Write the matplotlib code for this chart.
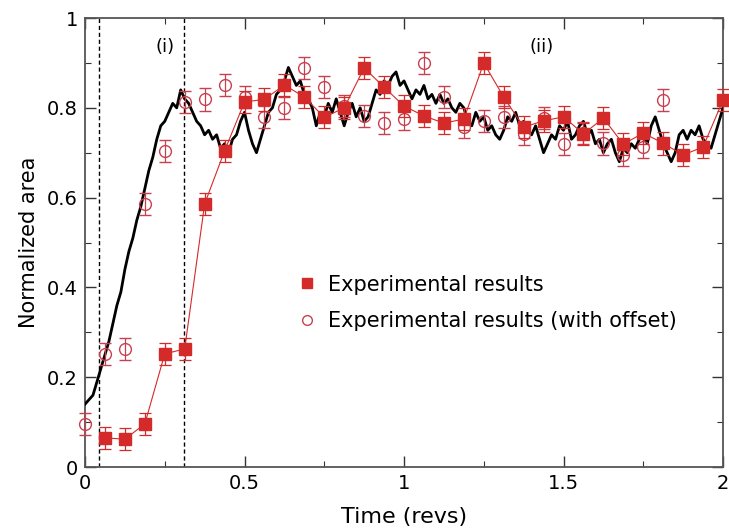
import numpy as np
import matplotlib
matplotlib.use('Agg')
import matplotlib.pyplot as plt
from matplotlib.ticker import MultipleLocator

# measured area, one sample every 1/16 rev
exp_time = [0.0625, 0.125, 0.1875, 0.25, 0.3125, 0.375, 0.4375, 0.5,
            0.5625, 0.625, 0.6875, 0.75, 0.8125, 0.875, 0.9375, 1.0,
            1.0625, 1.125, 1.1875, 1.25, 1.3125, 1.375, 1.4375, 1.5,
            1.5625, 1.625, 1.6875, 1.75, 1.8125, 1.875, 1.9375, 2.0]
exp_area = [0.065, 0.062, 0.096, 0.252, 0.263, 0.586, 0.704, 0.813,
            0.819, 0.851, 0.824, 0.779, 0.800, 0.889, 0.846, 0.804,
            0.782, 0.766, 0.775, 0.900, 0.824, 0.757, 0.771, 0.780,
            0.742, 0.777, 0.719, 0.744, 0.721, 0.695, 0.713, 0.817]
exp_err = 0.025
time_offset = 0.1875

# simulated area trace, sampled evenly from 0 to 2 revs
sim_area = [0.14, 0.15, 0.16, 0.19, 0.22, 0.25, 0.28, 0.32, 0.36, 0.39,
            0.44, 0.48, 0.51, 0.55, 0.58, 0.62, 0.66, 0.69, 0.73, 0.76,
            0.77, 0.79, 0.81, 0.80, 0.84, 0.82, 0.81, 0.79, 0.77, 0.76,
            0.74, 0.75, 0.73, 0.74, 0.71, 0.72, 0.70, 0.73, 0.74, 0.77,
            0.79, 0.75, 0.72, 0.70, 0.73, 0.76, 0.79, 0.80, 0.83, 0.84,
            0.86, 0.89, 0.87, 0.85, 0.86, 0.83, 0.82, 0.80, 0.76, 0.79,
            0.78, 0.81, 0.79, 0.82, 0.79, 0.76, 0.79, 0.81, 0.78, 0.80,
            0.77, 0.78, 0.81, 0.84, 0.83, 0.86, 0.85, 0.87, 0.88, 0.85,
            0.86, 0.84, 0.82, 0.84, 0.83, 0.85, 0.82, 0.83, 0.81, 0.83,
            0.81, 0.82, 0.80, 0.79, 0.81, 0.80, 0.77, 0.76, 0.79, 0.77,
            0.78, 0.75, 0.76, 0.74, 0.73, 0.75, 0.78, 0.77, 0.79, 0.76,
            0.77, 0.75, 0.74, 0.76, 0.73, 0.70, 0.72, 0.74, 0.73, 0.76,
            0.75, 0.77, 0.73, 0.74, 0.76, 0.77, 0.74, 0.75, 0.72, 0.73,
            0.70, 0.72, 0.73, 0.70, 0.68, 0.71, 0.70, 0.72, 0.71, 0.73,
            0.74, 0.72, 0.76, 0.78, 0.75, 0.72, 0.70, 0.68, 0.70, 0.74,
            0.75, 0.73, 0.75, 0.74, 0.76, 0.73, 0.72, 0.71, 0.74, 0.77,
            0.80]
sim_time = np.linspace(0, 2, len(sim_area))

phase_bounds = [0.044, 0.31]

red = '#d42a2a'
pink = '#c8404f'

fig = plt.figure(figsize=(7.29, 5.31), dpi=100)
ax = fig.add_axes([0.1166, 0.1205, 0.8752, 0.8455])

ax.plot(sim_time, sim_area, color='black', lw=2.0, zorder=3)

shifted = np.array(exp_time) - time_offset
keep = shifted >= -0.001
ax.errorbar(shifted[keep], np.array(exp_area)[keep], yerr=exp_err, fmt='o',
            ms=8.5, mfc='none', mec=pink, mew=1.0, ecolor=pink, elinewidth=0.9,
            capsize=4.5, capthick=0.9, zorder=4, clip_on=False)
ax.errorbar(exp_time, exp_area, yerr=exp_err, fmt='s-', color=red, lw=0.8,
            ms=9, mfc=red, mec=red, ecolor=red, elinewidth=0.9,
            capsize=4.5, capthick=0.9, zorder=5, clip_on=False)

for xb in phase_bounds:
    ax.axvline(xb, color='black', ls=(0, (3, 2)), lw=1.0, zorder=2)

ax.text(0.25, 0.935, '(i)', fontsize=13, ha='center', va='center')
ax.text(1.43, 0.935, '(ii)', fontsize=13, ha='center', va='center')

# legend handles only
h1, = ax.plot([], [], 's', color=red, ms=7)
h2, = ax.plot([], [], 'o', mfc='none', mec=pink, ms=7)
ax.legend([h1, h2], ['Experimental results', 'Experimental results (with offset)'],
          loc='upper left', bbox_to_anchor=(0.305, 0.47), frameon=False,
          fontsize=15, handlelength=0.8, handletextpad=0.6, labelspacing=0.8)

ax.set_xlim(0, 2)
ax.set_ylim(0, 1)
ax.xaxis.set_major_locator(MultipleLocator(0.5))
ax.xaxis.set_minor_locator(MultipleLocator(0.25))
ax.yaxis.set_major_locator(MultipleLocator(0.2))
ax.yaxis.set_minor_locator(MultipleLocator(0.1))
ax.xaxis.set_major_formatter(plt.FuncFormatter(lambda v, p: '%g' % v))
ax.yaxis.set_major_formatter(plt.FuncFormatter(lambda v, p: '%g' % v))
ax.tick_params(which='both', direction='in', top=True, right=True,
               labelsize=14, colors='#333333', labelcolor='black')
ax.tick_params(which='major', length=8, width=1.0, pad=5)
ax.tick_params(which='minor', length=4, width=0.8)
for sp in ax.spines.values():
    sp.set_color('#555555')
    sp.set_linewidth(1.3)

ax.set_xlabel('Time (revs)', fontsize=16, labelpad=10)
ax.set_ylabel('Normalized area', fontsize=15, labelpad=6)

plt.savefig('out.png', dpi=100)
